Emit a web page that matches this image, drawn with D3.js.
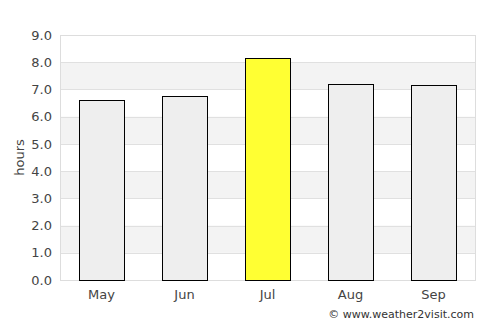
<!DOCTYPE html>
<html>
<head>
<meta charset="utf-8">
<script src="https://cdn.jsdelivr.net/npm/d3@7"></script>
<style>
  body { margin: 0; background: #fff; }
  text { font-family: "DejaVu Sans", sans-serif; }
</style>
</head>
<body>
<div id="chart"></div>
<script>
const months = ["May", "Jun", "Jul", "Aug", "Sep"];
const hours = [6.62, 6.75, 8.14, 7.19, 7.15];
const highlight = "Jul";
const yTicks = [0, 1, 2, 3, 4, 5, 6, 7, 8, 9];

const width = 500;
const height = 325;
const margin = { top: 35, right: 25, bottom: 45, left: 60 };
const innerW = width - margin.left - margin.right;
const innerH = height - margin.top - margin.bottom;

const svg = d3.select("#chart")
  .append("svg")
  .attr("width", width)
  .attr("height", height);

const g = svg.append("g")
  .attr("transform", `translate(${margin.left},${margin.top})`);

const x = d3.scaleBand().domain(months).range([0, innerW]).paddingInner(0.458).paddingOuter(0.229);
const y = d3.scaleLinear().domain([0, 9]).range([innerH, 0]);

// alternating bands
g.selectAll("rect.band")
  .data(yTicks.filter(d => d % 2 === 1 && d < 9))
  .enter()
  .append("rect")
  .attr("class", "band")
  .attr("x", 0)
  .attr("width", innerW)
  .attr("y", d => y(d + 1))
  .attr("height", d => y(d) - y(d + 1))
  .attr("fill", "#f3f3f3");

// grid lines
g.selectAll("line.grid")
  .data(yTicks)
  .enter()
  .append("line")
  .attr("x1", 0)
  .attr("x2", innerW)
  .attr("y1", d => Math.round(y(d)) + 0.5)
  .attr("y2", d => Math.round(y(d)) + 0.5)
  .attr("stroke", "#e0e0e0");

// frame
g.append("rect")
  .attr("x", 0.5)
  .attr("y", 0.5)
  .attr("width", innerW)
  .attr("height", innerH)
  .attr("fill", "none")
  .attr("stroke", "#dddddd");

// bars
g.selectAll("rect.bar")
  .data(months.map((m, i) => ({ m, v: hours[i] })))
  .enter()
  .append("rect")
  .attr("class", "bar")
  .attr("x", d => Math.round(x(d.m)) + 0.5)
  .attr("width", Math.round(x.bandwidth()))
  .attr("y", d => Math.round(y(d.v)) + 0.5)
  .attr("height", d => innerH - Math.round(y(d.v)))
  .attr("fill", d => d.m === highlight ? "#ffff33" : "#eeeeee")
  .attr("stroke", "#000")
  .attr("stroke-width", 1);

// y axis
const yAxis = g.append("g")
  .call(d3.axisLeft(y).tickValues(yTicks).tickFormat(d3.format(".1f")).tickSize(0).tickPadding(8));
yAxis.select(".domain").remove();
yAxis.selectAll("text").attr("font-size", 13).attr("fill", "#444");

// x axis
const xAxis = g.append("g")
  .attr("transform", `translate(0,${innerH})`)
  .call(d3.axisBottom(x).tickSize(0).tickPadding(10));
xAxis.select(".domain").remove();
xAxis.selectAll("text").attr("font-size", 13).attr("fill", "#444");

svg.append("text")
  .attr("transform", `translate(24,${margin.top + innerH / 2}) rotate(-90)`)
  .attr("text-anchor", "middle")
  .attr("font-size", 13)
  .attr("fill", "#444")
  .text("hours");

svg.append("text")
  .attr("x", 474)
  .attr("y", 318)
  .attr("text-anchor", "end")
  .attr("font-size", 11)
  .attr("fill", "#333")
  .text("© www.weather2visit.com");
</script>
</body>
</html>
